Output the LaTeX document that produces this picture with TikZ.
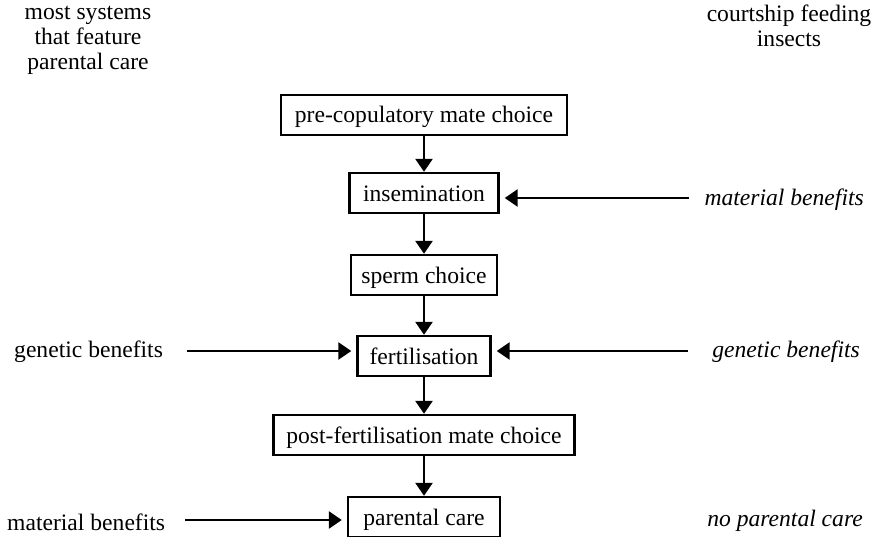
\documentclass[tikz,border=0pt]{standalone}
\usepackage{fontspec}
\setmainfont{Liberation Serif}
\usetikzlibrary{arrows.meta}
\begin{document}
\begin{tikzpicture}[x=1pt,y=-1pt,
  txt/.style={font=\fontsize{23.6}{25}\selectfont, inner sep=0pt},
  itxt/.style={txt, font=\fontsize{23.6}{25}\selectfont\itshape},
  box/.style={txt, draw, line width=2.4pt, minimum height=40pt, inner xsep=0pt,
    text height=19pt, text depth=3pt},
  arr/.style={line width=2.6pt, -{Triangle[length=13pt,width=17pt]}},
  side/.style={arr, shorten >=5pt}]
\useasboundingbox (0,0) rectangle (874,537);
% boxes
\node[box, minimum width=286pt] (pre)  at (424,115) {pre-copulatory mate choice};
\node[box, minimum width=149pt] (ins)  at (424,193) {insemination};
\node[box, minimum width=146pt] (sp)   at (424,275) {sperm choice};
\node[box, minimum width=133pt] (fer)  at (424,356) {fertilisation};
\node[box, minimum width=301pt] (post) at (424,435) {post-fertilisation mate choice};
\node[box, minimum width=152pt] (par)  at (424,517) {parental care};
% vertical arrows
\draw[arr] (pre) -- (ins);
\draw[arr] (ins) -- (sp);
\draw[arr] (sp) -- (fer);
\draw[arr] (fer) -- (post);
\draw[arr] (post) -- (par);
% headings
\node[txt, align=center, anchor=north] (hl) at (88,6) {most systems\\that feature\\parental care};
\node[txt, align=center, anchor=north] (hr) at (789,5) {courtship feeding\\insects};
% side labels
\node[itxt, anchor=east] (mbr) at (864,200) {material benefits};
\node[itxt, anchor=east] (gbr) at (860,352) {genetic benefits};
\node[itxt, anchor=east] (npc) at (863,521) {no parental care};
\node[txt, anchor=west] (gbl) at (14,352) {genetic benefits};
\node[txt, anchor=west] (mbl) at (7,522) {material benefits};
% side arrows
\coordinate (a1) at (689,198);
\coordinate (a2) at (688,351);
\coordinate (a3) at (187,351);
\coordinate (a4) at (185,520);
\draw[side] (a1) -- (a1 -| ins.east);
\draw[side] (a2) -- (a2 -| fer.east);
\draw[side] (a3) -- (a3 -| fer.west);
\draw[side] (a4) -- (a4 -| par.west);
\end{tikzpicture}
\end{document}
